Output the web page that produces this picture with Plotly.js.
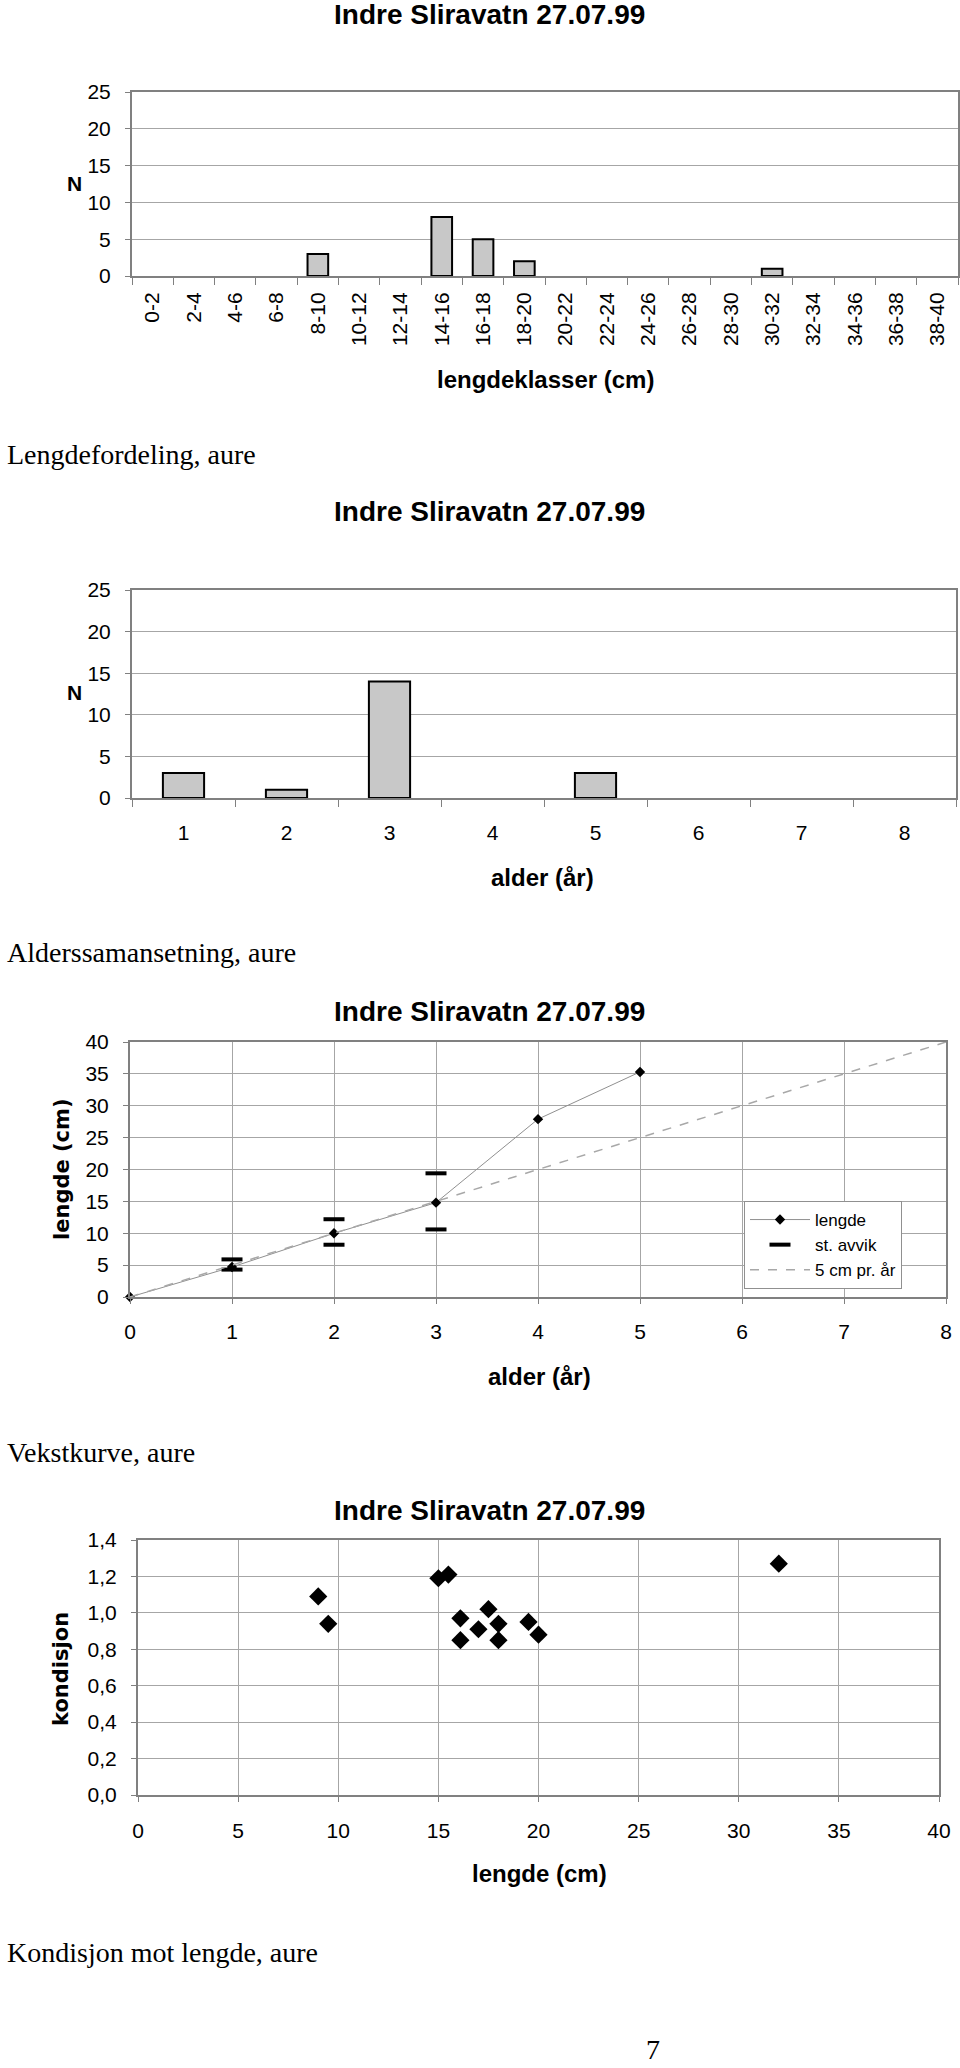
<!DOCTYPE html>
<html>
<head>
<meta charset="utf-8">
<script src="https://cdn.plot.ly/plotly-3.0.1.min.js"></script>
<style>
  html, body { margin: 0; padding: 0; background: #fff; }
  #page { width: 960px; height: 2068px; }
</style>
</head>
<body>
<div id="page"></div>
<script>
// lengdefordeling
const lengthClasses = ['0-2', '2-4', '4-6', '6-8', '8-10', '10-12', '12-14', '14-16', '16-18', '18-20',
  '20-22', '22-24', '24-26', '26-28', '28-30', '30-32', '32-34', '34-36', '36-38', '38-40'];
const lengthCounts = [0, 0, 0, 0, 3, 0, 0, 8, 5, 2, 0, 0, 0, 0, 0, 1, 0, 0, 0, 0];

// alderssamansetning
const ageClasses = ['1', '2', '3', '4', '5', '6', '7', '8'];
const ageCounts = [3, 1, 14, 0, 3, 0, 0, 0];

// vekstkurve
const growthAge = [0, 1, 2, 3, 4, 5];
const growthLength = [0, 4.7, 10.0, 14.8, 27.9, 35.3];
const sdAge = [1, 1, 2, 2, 3, 3];
const sdLength = [5.9, 4.3, 12.2, 8.2, 19.4, 10.6];
const rateAge = [0, 8];
const rateLength = [0, 40];

// kondisjon mot lengde
const condLength = [9.0, 9.5, 15.0, 15.5, 16.1, 16.1, 17.0, 17.5, 18.0, 18.0, 19.5, 20.0, 32.0];
const condFactor = [1.09, 0.94, 1.19, 1.21, 0.97, 0.85, 0.91, 1.02, 0.94, 0.85, 0.95, 0.88, 1.27];

const W = 960, H = 2068;
const px = v => v / W;
const py = v => 1 - v / H;

const SANS = 'Liberation Sans, Arial, sans-serif';
const SERIF = 'Liberation Serif, Times New Roman, serif';
const WIDE = 'DejaVu Sans, sans-serif';
const GRID = '#a6a6a6';
const AXIS = '#808080';

// empty classes get no outline, like the original
function barMarker(counts) {
  return {color: '#c8c8c8', line: {color: '#000', width: counts.map(v => v ? 2 : 0)}};
}

var data = [
  {x: lengthClasses, y: lengthCounts, type: 'bar', xaxis: 'x', yaxis: 'y', marker: barMarker(lengthCounts), showlegend: false},
  {x: ageClasses, y: ageCounts, type: 'bar', xaxis: 'x2', yaxis: 'y2', width: 0.4, marker: barMarker(ageCounts), showlegend: false},
  {x: growthAge, y: growthLength, type: 'scatter', mode: 'lines+markers', name: 'lengde', xaxis: 'x3', yaxis: 'y3',
    line: {color: '#909090', width: 1}, marker: {symbol: 'diamond', size: 8, color: '#000'}, cliponaxis: false},
  {x: sdAge, y: sdLength, type: 'scatter', mode: 'markers', name: 'st. avvik', xaxis: 'x3', yaxis: 'y3',
    marker: {symbol: 'line-ew', size: 15, line: {color: '#000', width: 4}}},
  {x: rateAge, y: rateLength, type: 'scatter', mode: 'lines', name: '5 cm pr. år', xaxis: 'x3', yaxis: 'y3',
    line: {color: '#a8a8a8', width: 1.5, dash: 'dash'}},
  {x: condLength, y: condFactor, type: 'scatter', mode: 'markers', xaxis: 'x4', yaxis: 'y4', showlegend: false,
    marker: {symbol: 'diamond', size: 14, color: '#000'}}
];

function xax(anchor, left, right, extra) {
  return Object.assign({
    anchor: anchor, domain: [px(left), px(right)], showline: true, mirror: true, linecolor: AXIS, linewidth: 2,
    ticks: 'outside', ticklen: 7, tickcolor: AXIS, tickwidth: 1, zeroline: false,
    tickfont: {family: SANS, size: 21, color: '#000'}, fixedrange: true
  }, extra);
}
function yax(anchor, top, bottom, extra) {
  return Object.assign({
    anchor: anchor, domain: [py(bottom), py(top)], showline: true, mirror: true, linecolor: AXIS, linewidth: 2,
    ticks: 'outside', ticklen: 5, tickcolor: AXIS, tickwidth: 1, zeroline: false,
    showgrid: true, gridcolor: GRID, gridwidth: 1, ticklabelstandoff: 10,
    tickfont: {family: SANS, size: 21, color: '#000'}, fixedrange: true
  }, extra);
}

function note(text, x, y, font, extra) {
  return Object.assign({text: text, x: px(x), y: py(y), xref: 'paper', yref: 'paper',
    showarrow: false, xanchor: 'center', yanchor: 'middle', font: font}, extra);
}
const titleFont = {family: SANS, size: 28, color: '#000', weight: 'bold'};
const axFont = {family: SANS, size: 24, color: '#000', weight: 'bold'};
const nFont = {family: SANS, size: 21, color: '#000', weight: 'bold'};
const wideFont = {family: WIDE, size: 21, color: '#000', weight: 'bold'};
const capFont = {family: SERIF, size: 28, color: '#000'};

var annotations = [
  note('Indre Sliravatn 27.07.99', 490, 15, titleFont),
  note('N', 74, 183, nFont),
  note('lengdeklasser (cm)', 545, 379, axFont),
  note('Lengdefordeling, aure', 5, 455, capFont, {xanchor: 'left'}),

  note('Indre Sliravatn 27.07.99', 490, 512, titleFont),
  note('N', 74, 692, nFont),
  note('alder (år)', 542, 877, axFont),
  note('Alderssamansetning, aure', 5, 952, capFont, {xanchor: 'left'}),

  note('Indre Sliravatn 27.07.99', 490, 1012, titleFont),
  note('lengde (cm)', 62, 1169, wideFont, {textangle: -90}),
  note('alder (år)', 539, 1376, axFont),
  note('Vekstkurve, aure', 5, 1452, capFont, {xanchor: 'left'}),

  note('Indre Sliravatn 27.07.99', 490, 1510, titleFont),
  note('kondisjon', 61, 1669, wideFont, {textangle: -90}),
  note('lengde (cm)', 539, 1873, axFont),
  note('Kondisjon mot lengde, aure', 5, 1952, capFont, {xanchor: 'left'}),

  note('7', 653, 2067, capFont, {yanchor: 'bottom'})
];

var layout = {
  width: W, height: H,
  margin: {l: 0, r: 0, t: 0, b: 0},
  paper_bgcolor: '#fff', plot_bgcolor: '#fff',
  separators: ', ',
  bargap: 0.5,
  xaxis: xax('y', 132, 958, {type: 'category', tickson: 'boundaries', tickangle: -90, showgrid: false, ticklabelstandoff: 6}),
  yaxis: yax('x', 92, 276, {range: [0, 25], dtick: 5}),
  xaxis2: xax('y2', 132, 956, {type: 'category', tickson: 'boundaries', showgrid: false, ticklabelstandoff: 15}),
  yaxis2: yax('x2', 590, 798, {range: [0, 25], dtick: 5}),
  xaxis3: xax('y3', 130, 946, {range: [0, 8], dtick: 1, showgrid: true, gridcolor: GRID, ticklen: 5, ticklabelstandoff: 10}),
  yaxis3: yax('x3', 1042, 1297, {range: [0, 40], dtick: 5}),
  xaxis4: xax('y4', 138, 939, {range: [0, 40], dtick: 5, showgrid: true, gridcolor: GRID, ticklen: 5, ticklabelstandoff: 11}),
  yaxis4: yax('x4', 1540, 1795, {range: [0, 1.4], dtick: 0.2, tickformat: '.1f'}),
  legend: {x: px(744), y: py(1201), xanchor: 'left', yanchor: 'top', bgcolor: '#fff',
    bordercolor: '#909090', borderwidth: 1, font: {family: SANS, size: 17, color: '#000'},
    tracegroupgap: 0, itemwidth: 60, entrywidth: 135},
  annotations: annotations
};

Plotly.newPlot('page', data, layout, {staticPlot: true});
</script>
</body>
</html>
